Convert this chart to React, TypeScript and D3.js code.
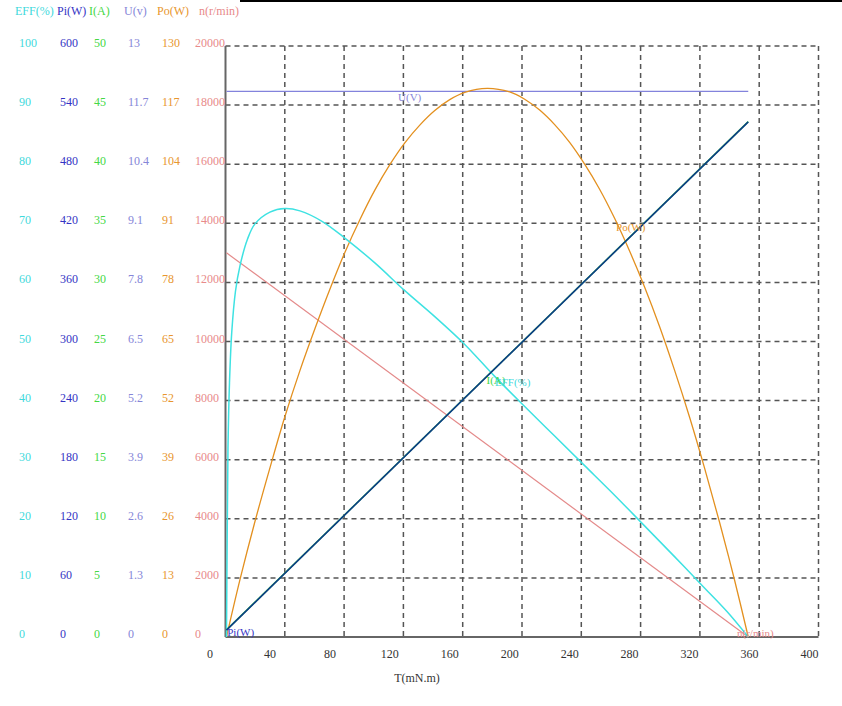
import React from "react";
import { scaleLinear, line, curveCatmullRom } from "d3";

// torque values (mN.m) and readings taken off the curves
const effData: [number, number][] = [
  [11, 0], [11.5, 18], [12, 32], [13, 43], [14.5, 51.5], [17, 58.5], [20, 62.8],
  [25, 67.3], [30, 69.9], [40, 71.9], [50, 72.5], [60, 72.1], [75, 70.3],
  [90, 67.5], [110, 63.3], [130, 58.6], [150, 54.2], [170, 49.5], [190, 44.1],
  [210, 39.0], [230, 34.0], [250, 29.0], [270, 24.0], [290, 18.8], [310, 13.6],
  [330, 8.3], [345, 4.3], [359.2, 0],
];
const poData: [number, number][] = [
  [11, 0], [20, 12.6], [30, 25.4], [40, 37.2], [50, 48.5], [60, 58.6], [70, 67.8],
  [80, 76.5], [90, 84.6], [100, 91.8], [110, 98.3], [120, 103.9], [130, 108.7],
  [140, 112.6], [150, 115.8], [160, 118.2], [170, 119.8], [185, 120.7], [200, 119.9],
  [210, 118.3], [220, 115.9], [230, 112.7], [240, 108.8], [250, 104], [260, 98.5],
  [270, 92.1], [280, 84.9], [290, 77], [300, 68.3], [310, 58.7], [320, 48.4],
  [330, 37.2], [340, 25.3], [350, 12.6], [359.2, 0],
];
const piData: [number, number][] = [[11, 7], [359.2, 523]];
const iData: [number, number][] = [[11, 0.6], [359.2, 43.6]];
const uData: [number, number][] = [[11, 12], [359.2, 12]];
const nData: [number, number][] = [[11, 13000], [359.2, 0]];

const effTicks = ["0", "10", "20", "30", "40", "50", "60", "70", "80", "90", "100"];
const piTicks = ["0", "60", "120", "180", "240", "300", "360", "420", "480", "540", "600"];
const iTicks = ["0", "5", "10", "15", "20", "25", "30", "35", "40", "45", "50"];
const uTicks = ["0", "1.3", "2.6", "3.9", "5.2", "6.5", "7.8", "9.1", "10.4", "11.7", "13"];
const poTicks = ["0", "13", "26", "39", "52", "65", "78", "91", "104", "117", "130"];
const nTicks = ["0", "2000", "4000", "6000", "8000", "10000", "12000", "14000", "16000", "18000", "20000"];
const tTicks = [0, 40, 80, 120, 160, 200, 240, 280, 320, 360, 400];

const columns = [
  { name: "EFF(%)", ticks: effTicks, max: 100, color: "#3fd9dc", hx: 15, tx: 19 },
  { name: "Pi(W)", ticks: piTicks, max: 600, color: "#3434c4", hx: 57, tx: 60 },
  { name: "I(A)", ticks: iTicks, max: 50, color: "#45d845", hx: 89, tx: 94 },
  { name: "U(v)", ticks: uTicks, max: 13, color: "#8686d8", hx: 124, tx: 128 },
  { name: "Po(W)", ticks: poTicks, max: 130, color: "#e8962e", hx: 157, tx: 162 },
  { name: "n(r/min)", ticks: nTicks, max: 20000, color: "#e88a8a", hx: 199, tx: 195 },
];

const font = "'Liberation Serif', 'Times New Roman', serif";

export default function App() {
  const W = 842, H = 706;
  const top = 46, bottom = 637;
  const xGrid = scaleLinear().domain([0, 400]).range([225.5, 818.5]);
  const xLab = scaleLinear().domain([0, 400]).range([210, 809.4]);
  const yFor = (max: number) => scaleLinear().domain([0, max]).range([bottom, top]);
  const yEff = yFor(100), yPi = yFor(600), yI = yFor(50), yU = yFor(13), yPo = yFor(130), yN = yFor(20000);
  const yPct = yFor(10);

  const mk = (ys: any, smooth: boolean) => {
    const g = line<[number, number]>().x((d) => xLab(d[0])).y((d) => ys(d[1]));
    if (smooth) g.curve(curveCatmullRom.alpha(0.5));
    return g;
  };

  const series = [
    { d: nData, ys: yN, color: "#e48a8a", w: 1.2, smooth: false },
    { d: uData, ys: yU, color: "#8383dc", w: 1.2, smooth: false },
    { d: poData, ys: yPo, color: "#e3901f", w: 1.3, smooth: true },
    { d: effData, ys: yEff, color: "#3ee2e2", w: 1.5, smooth: true },
    { d: iData, ys: yI, color: "#45d845", w: 1.5, smooth: false },
    { d: piData, ys: yPi, color: "#0b3a86", w: 1.6, smooth: false },
  ];

  const labels = [
    { text: "U(V)", x: 125.5, y: yU(12), color: "#8686d8", dy: 10 },
    { text: "Po(W)", x: 271, y: yPo(91), color: "#e8962e", dy: 7.5 },
    { text: "I(A)", x: 184.5, y: yI(22.2), color: "#45d845", dy: 9 },
    { text: "EFF(%)", x: 190.2, y: yEff(44), color: "#3fd9dc", dy: 9 },
    { text: "Pi(W)", x: 11.5, y: yPi(7), color: "#3434c4", dy: 6 },
    { text: "n(r/min)", x: 351.7, y: yN(0), color: "#e88a8a", dy: 0 },
  ];

  const steps = [0, 1, 2, 3, 4, 5, 6, 7, 8, 9, 10];

  return (
    <svg width={W} height={H} style={{ position: "absolute", left: 0, top: 0, background: "#fff" }} fontFamily={font}>
      <line x1={240} x2={W} y1={1} y2={1} stroke="#000" strokeWidth={2} />

      {/* dashed grid */}
      {steps.slice(1).map((i) => (
        <line key={"v" + i} x1={xGrid(i * 40)} x2={xGrid(i * 40)} y1={top} y2={bottom}
          stroke="#555" strokeWidth={1.5} strokeDasharray="5,4" />
      ))}
      {steps.slice(1).map((i) => (
        <line key={"h" + i} x1={xGrid(0)} x2={xGrid(400)} y1={yPct(i)} y2={yPct(i)}
          stroke="#555" strokeWidth={1.5} strokeDasharray="5,4" />
      ))}
      <line x1={xGrid(0)} x2={xGrid(0)} y1={top} y2={bottom} stroke="#666" strokeWidth={2} />
      <line x1={xGrid(0)} x2={xGrid(400)} y1={bottom} y2={bottom} stroke="#666" strokeWidth={2} />

      {/* left value columns */}
      {columns.map((c) => (
        <g key={c.name} fill={c.color} fontSize={12}>
          <text x={c.hx} y={15}>{c.name}</text>
          {c.ticks.map((t, i) => (
            <text key={t} x={c.tx} y={yPct(i) + 1}>{t}</text>
          ))}
        </g>
      ))}

      {/* bottom axis labels */}
      {tTicks.map((t) => (
        <text key={t} x={xLab(t)} y={658} textAnchor="middle" fontSize={12} fill="#333">{t}</text>
      ))}
      <text x={417} y={682} textAnchor="middle" fontSize={12} fill="#333">T(mN.m)</text>

      {/* curves */}
      {series.map((s, i) => (
        <path key={i} d={mk(s.ys, s.smooth)(s.d) || ""} fill="none" stroke={s.color} strokeWidth={s.w} />
      ))}

      {labels.map((l) => (
        <text key={l.text} x={xLab(l.x)} y={l.y + l.dy} fontSize={11} fill={l.color}>{l.text}</text>
      ))}
    </svg>
  );
}
